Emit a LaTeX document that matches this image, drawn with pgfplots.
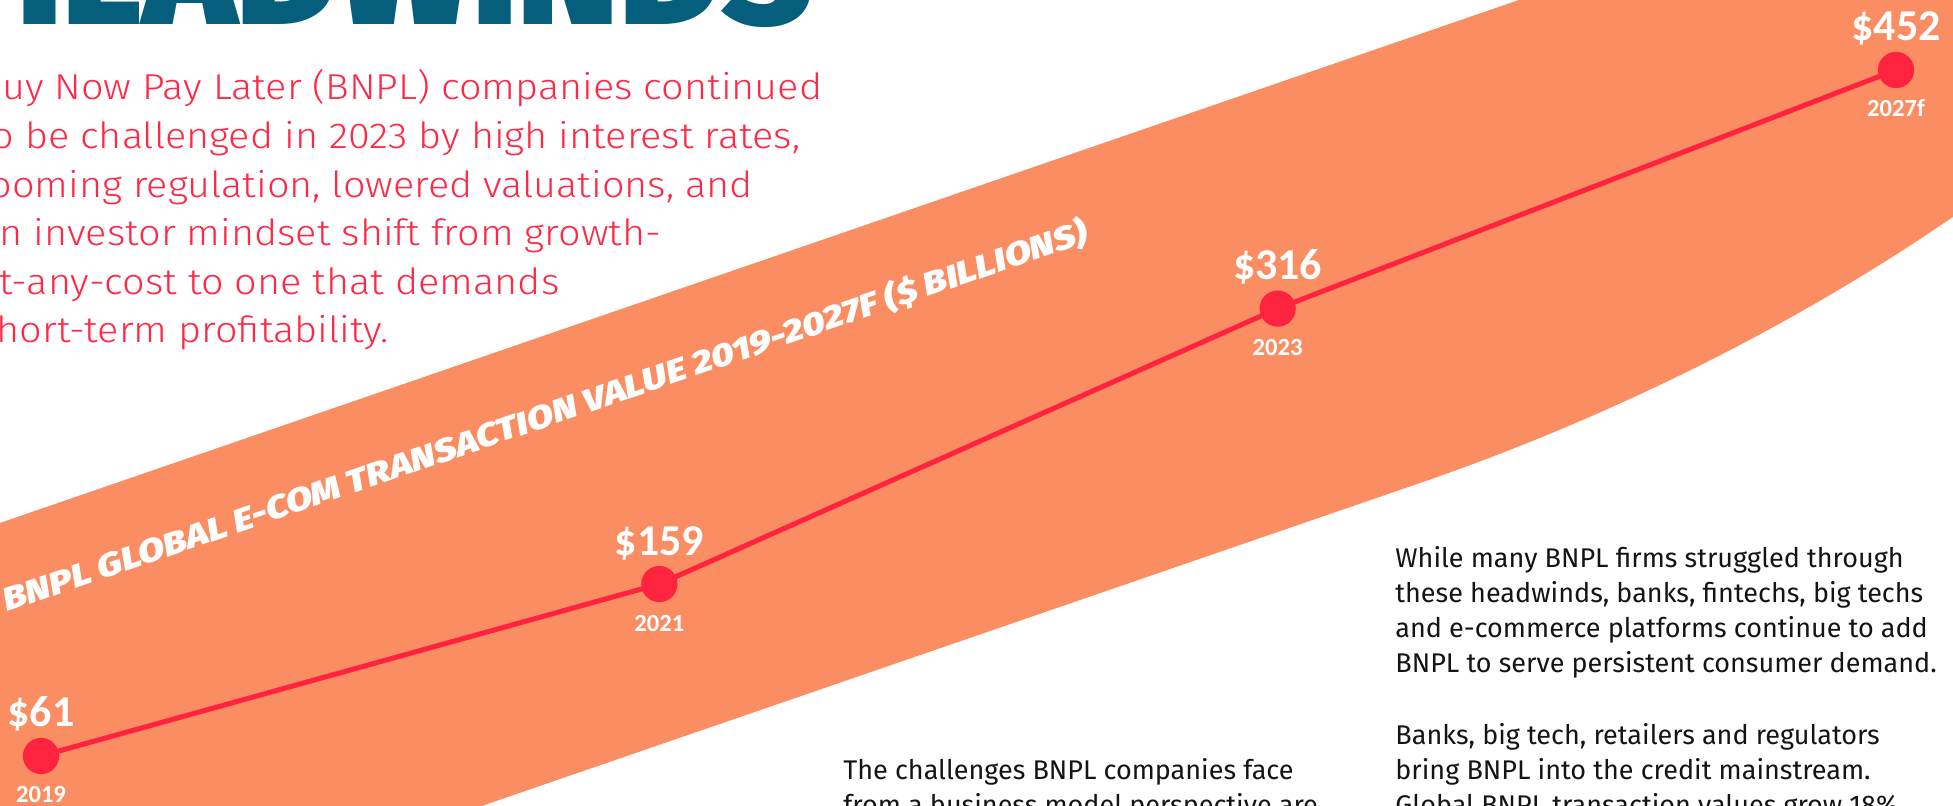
\documentclass[border=0pt]{standalone}
\usepackage{fontspec}
\setmainfont{Carlito}
\newfontfamily\introfont{Fira Sans Light}
\newfontfamily\firafont{Fira Sans}
\newfontfamily\blackfont{Fira Sans Black}
\newfontfamily\blackitfont{Fira Sans Black Italic}
\usepackage{graphicx}
\usepackage{pgfplots}
\pgfplotsset{compat=1.18}
\usepackage{pgfplotstable}

\definecolor{band}{RGB}{251,141,99}
\definecolor{linered}{RGB}{255,35,64}
\definecolor{headblue}{RGB}{4,94,124}
\definecolor{introred}{RGB}{255,40,70}
\definecolor{bodyblack}{RGB}{20,20,20}

\newcommand\intro[1]{\scalebox{1.1}[1]{#1}}

\pgfplotstableread{
idx value year
0 61 2019
1 159 2021
2 316 2023
3 452 2027f
}\bnpl

\begin{document}
\begin{tikzpicture}
\useasboundingbox (0,0) rectangle (976.5pt,403pt);
\clip (0,0) rectangle (976.5pt,403pt);
\begin{scope}[x=0.5pt,y=-0.5pt,shift={(0,403pt)}]
  % orange band
  \fill[band] (-10,526.4) -- (1548,-10) -- (2010,-10) -- (2010,180)
     -- (1960,212) .. controls (1790,330) and (1600,421) .. (1420,483)
     -- (441,820) -- (-10,820) -- cycle;
  % headline (cut by the top edge)
  \node[anchor=base west, inner sep=0, text=headblue] at (-40,25)
     {\resizebox{426pt}{!}{\blackfont HEADWINDS}};
  % intro text
  \begin{scope}[every node/.style={anchor=base west, inner sep=0, text=introred,
      font=\introfont\fontsize{18pt}{22pt}\selectfont}]
    \node at (-22,100)   {\intro{Buy Now Pay Later (BNPL) companies continued}};
    \node at (-22,148.6) {\intro{to be challenged in 2023 by high interest rates,}};
    \node at (-22,197.2) {\intro{looming regulation, lowered valuations, and}};
    \node at (-22,245.8) {\intro{an investor mindset shift from growth-}};
    \node at (-22,294.4) {\intro{at-any-cost to one that demands}};
    \node at (-22,343)   {\intro{short-term profitability.}};
  \end{scope}
  % band title
  \node[anchor=base west, inner sep=0, rotate=18.9, text=white] at (7,612)
     {\resizebox{572pt}{14pt}{\blackitfont BNPL GLOBAL E-COM TRANSACTION VALUE 2019-2027F (\$ BILLIONS)}};
  % body text
  \begin{scope}[every node/.style={anchor=base west, inner sep=0, text=bodyblack,
      font=\firafont\fontsize{13.5pt}{15pt}\selectfont}]
    \node at (1395,568) {While many BNPL firms struggled through};
    \node at (1395,603) {these headwinds, banks, fintechs, big techs};
    \node at (1395,638) {and e-commerce platforms continue to add};
    \node at (1395,673) {BNPL to serve persistent consumer demand.};
    \node at (1395,745) {Banks, big tech, retailers and regulators};
    \node at (1395,780) {bring BNPL into the credit mainstream.};
    \node at (1395,815) {Global BNPL transaction values grow 18\%};
    \node at (843,780) {The challenges BNPL companies face};
    \node at (843,815) {from a business model perspective are};
  \end{scope}
\end{scope}

\begin{axis}[at={(0,0)}, anchor=south west, scale only axis,
  width=976.5pt, height=403pt,
  xmin=-0.0663, xmax=3.0922, ymin=32.5, ymax=491.9,
  axis lines=none, ticks=none, clip=false]
\addplot[linered, line width=2.5pt, mark=*, mark size=7.8pt,
  mark options={draw=none, fill=linered},
  point meta=explicit symbolic,
  nodes near coords={\$\pgfplotspointmeta},
  nodes near coords style={anchor=base, yshift=14.5pt, inner sep=0, text=white,
     font=\bfseries\fontsize{22pt}{22pt}\selectfont}]
  table[x=idx, y=value, meta=value] {\bnpl};
\addplot[draw=none, mark=none,
  point meta=explicit symbolic,
  nodes near coords={\pgfplotspointmeta},
  nodes near coords style={anchor=base, yshift=-23.5pt, inner sep=0, text=white,
     font=\bfseries\fontsize{12.3pt}{12pt}\selectfont}]
  table[x=idx, y=value, meta=year] {\bnpl};
\end{axis}
\end{tikzpicture}
\end{document}
